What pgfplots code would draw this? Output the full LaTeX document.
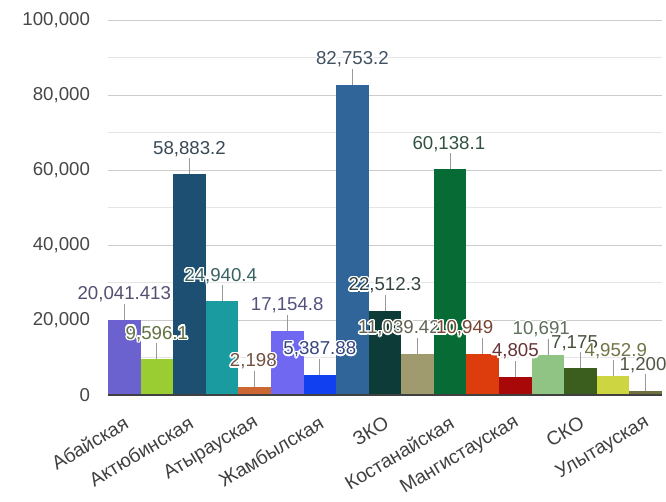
\documentclass[border=0pt]{standalone}
\usepackage{fontspec}
\setmainfont{Liberation Sans}
\usepackage{pgfplots}
\pgfplotsset{compat=1.18}
\usepackage[copies]{contour}
\contourlength{1.1pt}
\definecolor{c1}{HTML}{6B62CF}
\definecolor{c2}{HTML}{9ACD32}
\definecolor{c3}{HTML}{1D4F72}
\definecolor{c4}{HTML}{1A9BA0}
\definecolor{c5}{HTML}{CC6633}
\definecolor{c6}{HTML}{7068F0}
\definecolor{c7}{HTML}{1040F0}
\definecolor{c8}{HTML}{2F6598}
\definecolor{c9}{HTML}{0D3B38}
\definecolor{c10}{HTML}{A09B6E}
\definecolor{c11}{HTML}{076B35}
\definecolor{c12}{HTML}{DD3C0D}
\definecolor{c13}{HTML}{A80808}
\definecolor{c14}{HTML}{90C485}
\definecolor{c15}{HTML}{3B5E1F}
\definecolor{c16}{HTML}{CDD640}
\definecolor{c17}{HTML}{707040}
\newcommand{\mybar}[5]{%
  \addplot[ybar, bar width=1, bar shift=0pt, fill=#4, draw=none,
    nodes near coords={\contour{white}{\pgfplotspointmeta}},
    point meta=explicit symbolic,
    nodes near coords style={anchor=base, yshift=15pt, xshift=#5, inner sep=0pt,
      font=\fontsize{14}{16}\selectfont, text=#4!45!gray!70!black},
    error bars/.cd, y dir=plus, y fixed=4270, error mark=none,
    error bar style={black!40, line width=0.6pt}]
    coordinates {(#1,#2) [{#3}]};}
\begin{document}
\begin{tikzpicture}
\begin{axis}[
  scale only axis,
  width=415.5pt, height=281.25pt,
  xmin=0.5, xmax=17.5, ymin=0, ymax=100000,
  clip=false,
  axis line style={draw=none},
  major tick length=0pt, minor tick length=0pt,
  ytick={0,20000,40000,60000,80000,100000},
  yticklabels={0,{20,000},{40,000},{60,000},{80,000},{100,000}},
  minor ytick={10000,30000,50000,70000,90000},
  ymajorgrids, yminorgrids,
  major grid style={black!20, line width=0.6pt},
  minor grid style={black!10, line width=0.6pt},
  scaled y ticks=false,
  yticklabel style={text=black!72,
    font=\fontsize{14}{16}\selectfont, xshift=-10pt},
  xtick={1,3,5,7,9,11,13,15,17},
  xticklabels={Абайская, Актюбинская, Атырауская, Жамбылская, ЗКО, Костанайская, Мангистауская, СКО, Улытауская},
  xticklabel style={yshift=-19.5pt, xshift=1.5pt, rotate=31, anchor=east, inner sep=0pt,
    text=black!75, font=\fontsize{14.5}{16}\selectfont},
]
\mybar{1}{20041.413}{20,041.413}{c1}{0pt}
\mybar{2}{9596.1}{9,596.1}{c2}{0pt}
\mybar{3}{58883.2}{58,883.2}{c3}{0pt}
\mybar{4}{24940.4}{24,940.4}{c4}{-1pt}
\mybar{5}{2198}{2,198}{c5}{-1pt}
\mybar{6}{17154.8}{17,154.8}{c6}{0pt}
\mybar{7}{5387.88}{5,387.88}{c7}{0pt}
\mybar{8}{82753.2}{82,753.2}{c8}{0pt}
\mybar{9}{22512.3}{22,512.3}{c9}{0pt}
\mybar{10}{11039.42}{11,039.42}{c10}{-14pt}
\mybar{11}{60138.1}{60,138.1}{c11}{-1pt}
\mybar{12}{10949}{10,949}{c12}{-13.5pt}
\mybar{13}{4805}{4,805}{c13}{0pt}
\mybar{14}{10691}{10,691}{c14}{-5pt}
\mybar{15}{7175}{7,175}{c15}{-4.5pt}
\mybar{16}{4952.9}{4,952.9}{c16}{2pt}
\mybar{17}{1200}{1,200}{c17}{-2pt}
\draw[black!75, line width=0.9pt] (rel axis cs:0,0) -- (rel axis cs:1,0);
\end{axis}
\pgfresetboundingbox
\path[use as bounding box] (-81pt,-80.25pt) rectangle (418.5pt,296.25pt);
\end{tikzpicture}
\end{document}
